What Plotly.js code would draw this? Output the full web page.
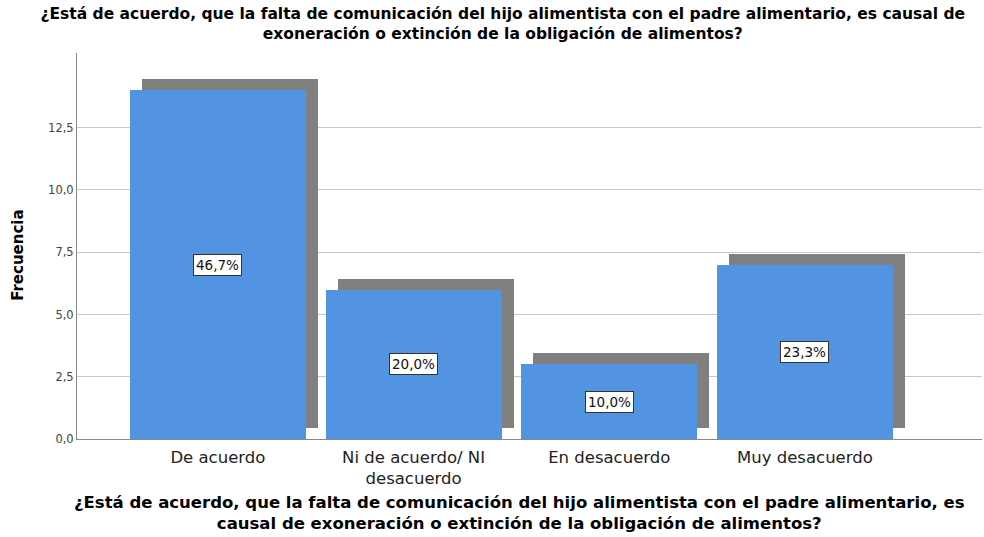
<!DOCTYPE html>
<html>
<head>
<meta charset="utf-8">
<script src="https://cdn.plot.ly/plotly-3.0.1.min.js"></script>
<style>html,body{margin:0;padding:0;background:#fff;}#chart{width:984px;height:537px;}</style>
</head>
<body>
<div id="chart"></div>
<script>
const categories = ["De acuerdo", "Ni de acuerdo/ NI<br>desacuerdo", "En desacuerdo", "Muy desacuerdo"];
const frecuencia = [14, 6, 3, 7];
const porcentajes = ["46,7%", "20,0%", "10,0%", "23,3%"];
const yTicks = [0, 2.5, 5, 7.5, 10, 12.5];
const titleText = "¿Está de acuerdo, que la falta de comunicación del hijo alimentista con el padre alimentario, es causal de<br>exoneración o extinción de la obligación de alimentos?";
const xTitleText = "¿Está de acuerdo, que la falta de comunicación del hijo alimentista con el padre alimentario, es<br>causal de exoneración o extinción de la obligación de alimentos?";
const yTitleText = "Frecuencia";

const FONT = "DejaVu Sans, Liberation Sans, Arial, sans-serif";
const shadowLift = 0.44;

const shadow = {
  type: "bar", x: categories, y: frecuencia,
  base: frecuencia.map(() => shadowLift),
  width: 0.9, offset: -0.45 + 0.0613,
  marker: {color: "#808080", line: {width: 0}},
  hoverinfo: "skip", showlegend: false
};
const bars = {
  type: "bar", x: categories, y: frecuencia,
  width: 0.9, offset: -0.45,
  marker: {color: "#5394E2", line: {width: 0}},
  showlegend: false
};

const annotations = categories.map((c, i) => ({
  x: c, y: frecuencia[i] / 2, xref: "x", yref: "y",
  text: porcentajes[i], showarrow: false,
  font: {family: FONT, size: 13.5, color: "#111"},
  bgcolor: "#ffffff", bordercolor: "#333333", borderwidth: 1, borderpad: 2
}));
annotations.push({
  text: yTitleText, xref: "paper", yref: "paper", x: 0, xshift: -59,
  y: 0.4745, textangle: -90, showarrow: false,
  xanchor: "center", yanchor: "middle",
  font: {family: FONT, size: 15, color: "#000", weight: "bold"}
});
annotations.push({
  text: xTitleText, xref: "paper", yref: "paper", x: 0.4884, y: -0.192,
  showarrow: false, xanchor: "center", yanchor: "middle", align: "center",
  font: {family: FONT, size: 16.5, color: "#000", weight: "bold"}
});

const layout = {
  width: 984, height: 537,
  margin: {l: 77, r: 2, t: 53, b: 98},
  paper_bgcolor: "#fff", plot_bgcolor: "#fff",
  separators: ",.",
  barmode: "overlay",
  bargap: 0,
  font: {family: FONT},
  title: {
    text: titleText,
    font: {family: FONT, size: 15.5, color: "#000", weight: "bold"},
    x: 0.511, xanchor: "center", y: 0.964, yanchor: "middle", yref: "container"
  },
  xaxis: {
    type: "category",
    range: [-0.72, 3.905],
    showgrid: false, zeroline: false,
    showline: true, linecolor: "#888", linewidth: 1,
    ticks: "", ticklabelstandoff: 3,
    tickfont: {family: FONT, size: 16.5, color: "#222"}
  },
  yaxis: {
    range: [0, 15.5],
    tickvals: yTicks, tickformat: ".1f",
    showgrid: true, gridcolor: "#c8c8c8", gridwidth: 1,
    zeroline: false, showline: true, linecolor: "#888", linewidth: 1,
    ticks: "", ticklen: 0,
    tickfont: {family: FONT, size: 11.5, color: "#444"}
  },
  annotations: annotations
};

Plotly.newPlot("chart", [shadow, bars], layout, {displayModeBar: false, staticPlot: true});
</script>
</body>
</html>
